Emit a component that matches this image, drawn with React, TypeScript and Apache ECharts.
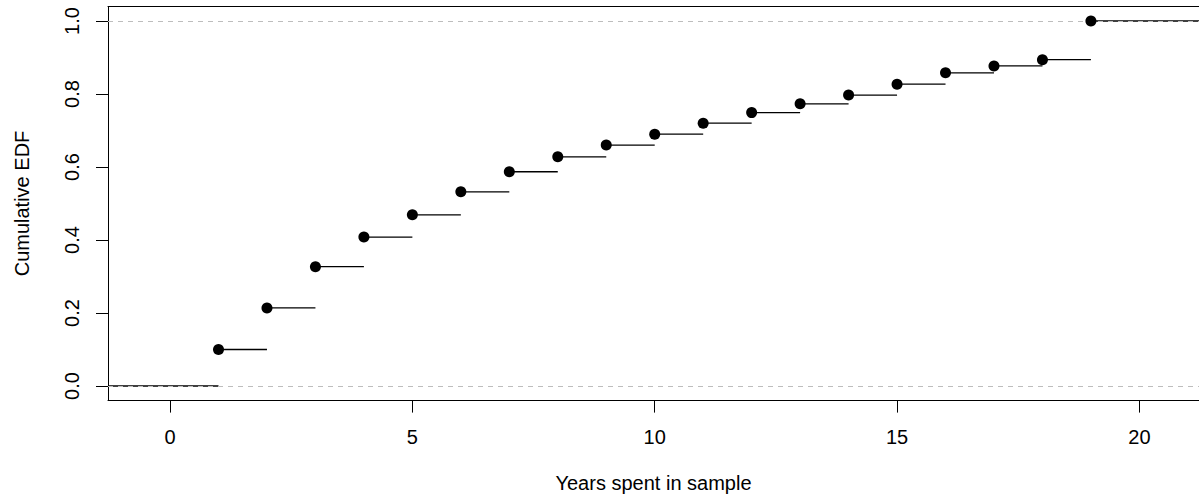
import React, { useEffect, useRef } from "react";
import * as echarts from "echarts";

const years = [1, 2, 3, 4, 5, 6, 7, 8, 9, 10, 11, 12, 13, 14, 15, 16, 17, 18, 19];
const ecdf = [0.1, 0.214, 0.327, 0.408, 0.469, 0.532, 0.587, 0.628, 0.66, 0.69, 0.72, 0.749, 0.773, 0.797, 0.827, 0.858, 0.877, 0.894, 1.0];
const xTicks = [0, 5, 10, 15, 20];
const yTicks = [0, 0.2, 0.4, 0.6, 0.8, 1.0];
const refLines = [0, 1];

const XMIN = -1.28;
const XMAX = 21.23;
const YMIN = -0.04;
const YMAX = 1.04;

const FONT = "Liberation Sans, Arial, Helvetica, sans-serif";

export default function App() {
  const ref = useRef<HTMLDivElement>(null);
  useEffect(() => {
    if (!ref.current) return;
    const chart = echarts.init(ref.current, null, { renderer: "svg" });

    // step segments: [x start, x end, y]
    const segments: number[][] = [[XMIN, years[0], 0]];
    years.forEach((x, i) => {
      const xEnd = i < years.length - 1 ? years[i + 1] : XMAX;
      segments.push([x, xEnd, ecdf[i]]);
    });
    const points = years.map((x, i) => [x, ecdf[i]]);

    const lineStyle = { color: "#000", width: 1 };

    chart.setOption({
      animation: false,
      backgroundColor: "#fff",
      textStyle: { fontFamily: FONT },
      grid: {
        left: 108,
        top: 6.4,
        width: 1091,
        height: 394.2,
        show: false,
      },
      xAxis: [
        {
          type: "value",
          min: XMIN,
          max: XMAX,
          name: "Years spent in sample",
          nameLocation: "middle",
          nameGap: 72,
          nameTextStyle: { fontSize: 20, color: "#000", fontFamily: FONT },
          axisLine: { show: true, onZero: false, lineStyle },
          axisTick: { show: true, inside: false, customValues: xTicks, length: 12, lineStyle },
          axisLabel: {
            customValues: xTicks,
            fontSize: 20,
            color: "#000",
            margin: 26,
            fontFamily: FONT,
          },
          splitLine: { show: false },
        },
        {
          type: "value",
          position: "top",
          min: XMIN,
          max: XMAX,
          axisLine: { show: true, onZero: false, lineStyle },
          axisTick: { show: false },
          axisLabel: { show: false },
          splitLine: { show: false },
        },
      ],
      yAxis: {
        type: "value",
        min: YMIN,
        max: YMAX,
        name: "Cumulative EDF",
        nameLocation: "middle",
        nameRotate: 90,
        nameGap: 76,
        nameTextStyle: { fontSize: 20, color: "#000", fontFamily: FONT },
        axisLine: { show: true, onZero: false, lineStyle },
        axisTick: { show: true, inside: false, customValues: yTicks, length: 12, lineStyle },
        axisLabel: {
          customValues: yTicks,
          rotate: 90,
          fontSize: 20,
          color: "#000",
          margin: 26,
          fontFamily: FONT,
          formatter: (v: number) => v.toFixed(1),
        },
        splitLine: { show: false },
      },
      series: [
        {
          type: "custom",
          xAxisIndex: 0,
          data: segments,
          encode: { x: [0, 1], y: 2 },
          z: 2,
          renderItem: (params: any, api: any) => {
            const y = api.value(2);
            const p1 = api.coord([api.value(0), y]);
            const p2 = api.coord([api.value(1), y]);
            return {
              type: "line",
              shape: { x1: p1[0], y1: p1[1], x2: p2[0], y2: p2[1] },
              style: { stroke: "#000", lineWidth: 1.3 },
            };
          },
        },
        {
          type: "scatter",
          xAxisIndex: 0,
          data: points,
          symbol: "circle",
          symbolSize: 11,
          itemStyle: { color: "#000", opacity: 1 },
          z: 4,
          markLine: {
            silent: true,
            symbol: "none",
            label: { show: false },
            lineStyle: { color: "#bdbdbd", type: [5, 5], width: 1.2, opacity: 1 },
            data: refLines.map((v) => ({ yAxis: v })),
            z: 3,
          },
        },
      ],
    });
    return () => chart.dispose();
  }, []);
  return (
    <div
      ref={ref}
      style={{ position: "absolute", left: 0, top: 0, width: 1199, height: 503, background: "#fff" }}
    />
  );
}
